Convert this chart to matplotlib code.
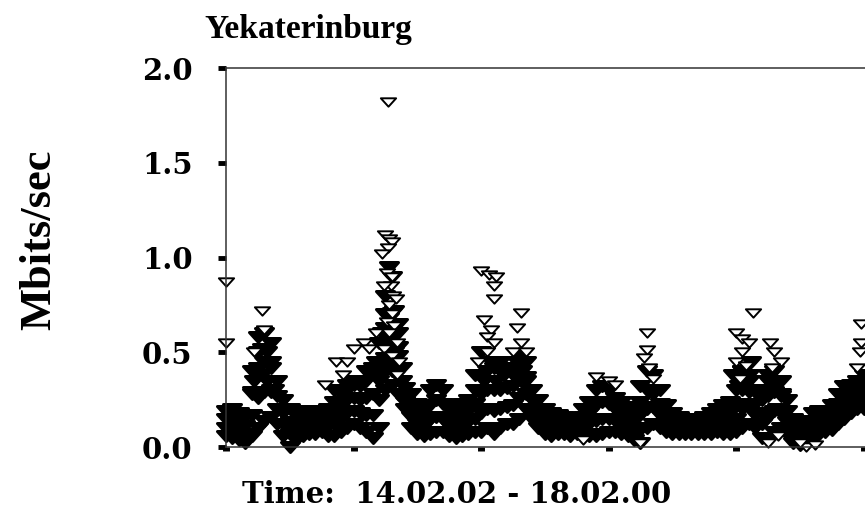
# Traffic scatter plot for Yekaterinburg
from matplotlib import pyplot as plt
from matplotlib.path import Path
import numpy as np

# Sample times (days from start) and the band of readings at each time
t = np.round(np.arange(101) * 0.05, 2)

low = [0.06, 0.05, 0.04, 0.02, 0.06, 0.10, 0.14, 0.16, 0.12, 0.06,
       0.00, 0.04, 0.06, 0.07, 0.07, 0.08, 0.06, 0.06, 0.08, 0.10,
       0.12, 0.10, 0.08, 0.05, 0.10, 0.30, 0.33, 0.28, 0.20, 0.10,
       0.07, 0.06, 0.07, 0.08, 0.08, 0.06, 0.05, 0.06, 0.07, 0.08,
       0.08, 0.10, 0.07, 0.10, 0.12, 0.12, 0.15, 0.20, 0.15, 0.10,
       0.07, 0.06, 0.07, 0.07, 0.06, 0.07, 0.07, 0.06, 0.06, 0.07,
       0.08, 0.08, 0.07, 0.06, 0.04, 0.02, 0.10, 0.12, 0.10, 0.08,
       0.07, 0.07, 0.07, 0.07, 0.07, 0.07, 0.07, 0.08, 0.07, 0.07,
       0.08, 0.10, 0.12, 0.10, 0.05, 0.05, 0.08, 0.10, 0.07, 0.02,
       0.01, 0.02, 0.04, 0.07, 0.08, 0.09, 0.12, 0.15, 0.18, 0.20, 0.20]

mid1 = [0.10, 0.10, 0.08, 0.07, 0.17, 0.26, 0.29, 0.29, 0.20, 0.12,
        0.07, 0.08, 0.10, 0.11, 0.11, 0.12, 0.11, 0.12, 0.15, 0.18,
        0.19, 0.18, 0.17, 0.17, 0.25, 0.47, 0.52, 0.40, 0.24, 0.16,
        0.12, 0.11, 0.15, 0.16, 0.15, 0.11, 0.11, 0.12, 0.13, 0.15,
        0.18, 0.20, 0.19, 0.20, 0.21, 0.22, 0.26, 0.28, 0.20, 0.15,
        0.11, 0.10, 0.10, 0.10, 0.09, 0.10, 0.11, 0.12, 0.14, 0.15,
        0.15, 0.14, 0.13, 0.11, 0.09, 0.09, 0.20, 0.21, 0.17, 0.13,
        0.11, 0.10, 0.10, 0.10, 0.10, 0.10, 0.11, 0.12, 0.12, 0.13,
        0.15, 0.20, 0.21, 0.17, 0.12, 0.16, 0.19, 0.18, 0.13, 0.06,
        0.05, 0.06, 0.09, 0.11, 0.12, 0.13, 0.17, 0.21, 0.23, 0.25, 0.26]

mid2 = [0.15, 0.15, 0.13, 0.11, 0.29, 0.42, 0.45, 0.42, 0.27, 0.18,
        0.13, 0.13, 0.14, 0.15, 0.15, 0.15, 0.15, 0.18, 0.23, 0.25,
        0.26, 0.25, 0.26, 0.28, 0.40, 0.63, 0.71, 0.53, 0.27, 0.22,
        0.18, 0.15, 0.22, 0.25, 0.23, 0.15, 0.16, 0.17, 0.19, 0.23,
        0.28, 0.30, 0.30, 0.30, 0.31, 0.32, 0.37, 0.37, 0.25, 0.20,
        0.16, 0.14, 0.14, 0.13, 0.12, 0.12, 0.16, 0.18, 0.22, 0.24,
        0.23, 0.20, 0.18, 0.16, 0.14, 0.17, 0.30, 0.29, 0.23, 0.17,
        0.14, 0.13, 0.12, 0.12, 0.12, 0.13, 0.14, 0.16, 0.17, 0.18,
        0.23, 0.30, 0.29, 0.23, 0.18, 0.27, 0.29, 0.27, 0.19, 0.11,
        0.08, 0.10, 0.13, 0.15, 0.15, 0.18, 0.23, 0.26, 0.28, 0.30, 0.32]

high = [0.19, 0.20, 0.18, 0.16, 0.40, 0.58, 0.60, 0.55, 0.35, 0.25,
        0.20, 0.17, 0.18, 0.19, 0.19, 0.19, 0.20, 0.24, 0.30, 0.33,
        0.33, 0.33, 0.35, 0.40, 0.55, 0.80, 0.90, 0.65, 0.31, 0.28,
        0.23, 0.20, 0.30, 0.33, 0.30, 0.20, 0.22, 0.23, 0.25, 0.30,
        0.38, 0.40, 0.42, 0.40, 0.40, 0.42, 0.48, 0.45, 0.30, 0.25,
        0.20, 0.18, 0.17, 0.16, 0.14, 0.15, 0.20, 0.24, 0.30, 0.32,
        0.30, 0.26, 0.24, 0.21, 0.19, 0.24, 0.40, 0.38, 0.30, 0.22,
        0.18, 0.16, 0.15, 0.15, 0.15, 0.16, 0.18, 0.20, 0.22, 0.24,
        0.30, 0.40, 0.38, 0.30, 0.25, 0.38, 0.40, 0.35, 0.25, 0.15,
        0.12, 0.14, 0.18, 0.19, 0.19, 0.22, 0.28, 0.32, 0.33, 0.35, 0.38]

# Isolated readings away from the main band
out_t = [0.00, 0.00, 0.28, 0.22, 0.30,
         0.86, 0.95, 0.92, 1.00, 1.08, 1.12, 1.18, 0.78,
         1.27, 1.25, 1.28, 1.30, 1.27, 1.22, 1.26, 1.29, 1.31, 1.28, 1.33,
         1.30, 1.26, 1.32, 1.28, 1.34, 1.24, 1.30, 1.36, 1.34, 1.24, 1.30,
         2.00, 2.06, 2.12, 2.10, 2.10, 2.02, 2.08, 2.05, 2.10, 2.31, 2.28,
         2.31, 2.25, 2.35, 1.98, 2.05,
         2.90, 3.00, 3.05, 2.80, 3.25,
         3.30, 3.30, 3.28, 3.32, 3.35,
         4.13, 4.00, 4.05, 4.10, 4.05, 4.00, 4.08, 4.27, 4.30, 4.35, 4.28,
         4.03, 4.25, 4.33,
         4.55, 4.62, 4.50,
         4.98, 4.98, 4.97, 4.95]
out_v = [0.87, 0.55, 0.72, 0.50, 0.62,
         0.45, 0.45, 0.38, 0.52, 0.55, 0.52, 0.60, 0.33,
         1.82, 1.12, 1.10, 1.08, 1.05, 1.02, 0.92, 0.85, 0.80, 0.75, 0.78,
         0.70, 0.66, 0.64, 0.60, 0.55, 0.52, 0.48, 0.45, 0.38, 0.85, 0.90,
         0.93, 0.91, 0.90, 0.85, 0.78, 0.67, 0.62, 0.58, 0.55, 0.71, 0.63,
         0.55, 0.50, 0.50, 0.45, 0.50,
         0.37, 0.35, 0.33, 0.04, 0.02,
         0.60, 0.51, 0.47, 0.42, 0.36,
         0.71, 0.60, 0.57, 0.55, 0.50, 0.45, 0.43, 0.55, 0.50, 0.45, 0.42,
         0.36, 0.02, 0.06,
         0.00, 0.01, 0.02,
         0.65, 0.55, 0.50, 0.42]

# More readings inside the busy peaks
peak_t = [0.20, 0.22, 0.25, 0.25, 0.28, 0.28, 0.32, 0.32, 0.35, 0.35, 0.38,
          0.85, 0.90, 0.95, 1.00, 1.05, 1.10, 1.15,
          1.18, 1.20, 1.22, 1.22, 1.25, 1.25, 1.25, 1.28, 1.28, 1.28, 1.30,
          1.30, 1.32, 1.32, 1.35, 1.35, 1.38, 1.38,
          1.95, 2.00, 2.02, 2.08, 2.12, 2.15, 2.18, 2.22, 2.25, 2.28, 2.32,
          2.35, 2.38,
          3.25, 3.30, 3.35,
          3.98, 4.02, 4.05, 4.10, 4.12, 4.20, 4.25, 4.28, 4.30, 4.35, 4.32,
          4.90, 4.95, 5.00]
peak_v = [0.28, 0.35, 0.50, 0.38, 0.52, 0.38, 0.50, 0.35, 0.45, 0.30, 0.30,
          0.30, 0.28, 0.30, 0.35, 0.32, 0.40, 0.42,
          0.45, 0.35, 0.60, 0.42, 0.70, 0.55, 0.40, 0.95, 0.68, 0.45, 0.58,
          0.40, 0.72, 0.50, 0.60, 0.48, 0.35, 0.42,
          0.38, 0.50, 0.35, 0.45, 0.35, 0.45, 0.38, 0.42, 0.38, 0.45, 0.40,
          0.35, 0.30,
          0.32, 0.30, 0.28,
          0.38, 0.32, 0.40, 0.35, 0.45, 0.30, 0.35, 0.30, 0.32, 0.28, 0.20,
          0.30, 0.32, 0.30]

# flat down-pointing triangle marker
tri = Path([(-1, 0.55), (1, 0.55), (0, -0.55), (-1, 0.55)],
           [Path.MOVETO, Path.LINETO, Path.LINETO, Path.CLOSEPOLY])

fig = plt.figure(figsize=(8.65, 5.11), dpi=100)
# axes runs past the right edge of the picture
ax = fig.add_axes([0.2613, 0.125, 0.8107, 0.7417])

# the band is packed so tight it prints solid black
for series in [low, mid1, mid2, high]:
    ax.plot(t, series, linestyle='none', marker=tri, markersize=13,
            markerfacecolor='black', markeredgecolor='black',
            markeredgewidth=2.2, clip_on=False)
ax.plot(peak_t, peak_v, linestyle='none', marker=tri, markersize=13,
        markerfacecolor='black', markeredgecolor='black',
        markeredgewidth=2.2, clip_on=False)
ax.plot(out_t, out_v, linestyle='none', marker=tri, markersize=11,
        markerfacecolor='white', markeredgecolor='black',
        markeredgewidth=1.4, clip_on=False)

ax.set_xlim(0, 5.5)
ax.set_ylim(0, 2.0)
ax.set_xticks([0, 1, 2, 3, 4, 5])
ax.set_xticklabels([])
ax.set_yticks([0.0, 0.5, 1.0, 1.5, 2.0])
ax.set_yticklabels(['0.0', '0.5', '1.0', '1.5', '2.0'],
                   fontfamily='DejaVu Serif', fontweight='bold', fontsize=21)
ax.tick_params(axis='y', direction='out', length=6, width=3.5, pad=18)
ax.tick_params(axis='x', direction='out', length=3, width=5)
for side in ['left', 'top', 'bottom', 'right']:
    ax.spines[side].set_linewidth(1.1)
    ax.spines[side].set_color('#333333')

fig.text(0.357, 0.9256, 'Yekaterinburg', ha='center', va='baseline',
         fontfamily='Liberation Serif', fontweight='bold', fontsize=24)
fig.text(0.528, 0.0157, 'Time:  14.02.02 - 18.02.00', ha='center', va='baseline',
         fontfamily='DejaVu Serif', fontweight='bold', fontsize=21)
fig.text(0.045, 0.53, 'Mbits/sec', rotation=90, ha='center', va='center',
         fontfamily='Liberation Serif', fontweight='bold', fontsize=32)

plt.savefig('out.png', dpi=100)
